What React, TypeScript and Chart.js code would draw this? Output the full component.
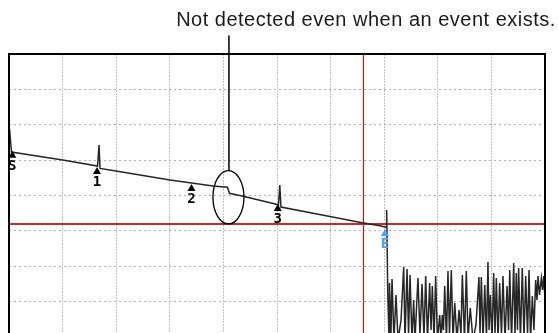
import React, { useEffect, useRef } from "react";
import { Chart, registerables } from "chart.js";

Chart.register(...registerables);

// Distance (km) and level (dB) of the measured OTDR trace
const traceKm = [
  0.05, 0.23, 5.01, 8.26, 8.4, 8.49, 9.98, 15.02, 19.03, 20.38, 20.57, 21.74, 25.14, 25.26, 25.37,
  29.94, 32.93, 34.61, 35.17, 35.23, 35.33,
  35.45, 35.49, 35.63, 35.73, 35.91, 36.1, 36.29, 36.57, 36.82, 36.94, 37.13, 37.27, 37.41, 37.59,
  37.75, 37.87, 38.15, 38.34, 38.53, 38.71, 38.87, 39.04, 39.24, 39.37, 39.49, 39.65, 39.8, 39.97,
  40.18, 40.3, 40.42, 40.53, 40.64, 40.81, 40.95, 41.09, 41.26, 41.42, 41.58, 41.79, 41.98, 42.16,
  42.29, 42.49, 42.66, 42.82, 43.03, 43.28, 43.56, 43.84, 43.94, 44.06, 44.22, 44.38, 44.54, 44.68,
  44.78, 44.9, 45.06, 45.21, 45.34, 45.46, 45.62, 45.77, 45.94, 46.08, 46.27, 46.46, 46.6, 46.71,
  46.88, 47.08, 47.2, 47.32, 47.43, 47.54, 47.71, 47.88, 48.04, 48.2, 48.37, 48.51, 48.65, 48.82,
  48.97, 49.13, 49.25, 49.35, 49.49, 49.66, 49.77, 49.88, 50.0,
];
const traceDb = [
  29.4, 26.15, 25.02, 24.17, 27.14, 23.82, 23.46, 22.19, 21.34, 21.16, 20.31, 19.93, 18.69, 21.48, 18.37,
  17.03, 16.16, 15.73, 15.51, 17.95, 6.36,
  -0.42, 7.63, 0.28, 8.2, -0.42, 5.94, -0.42, 2.4, 9.89, -0.42, 9.61, 0.28, 8.76, -0.42,
  5.23, -0.42, 8.34, 0.28, 7.49, -0.14, 8.62, -0.42, 7.63, 0.99, 7.21, -0.42, 8.62, -0.42,
  3.11, -0.42, 3.11, 0.99, 7.21, -0.42, 9.33, 0.28, 9.47, -0.42, 4.81, -0.42, 3.82, 0.28,
  8.76, -0.42, 9.33, -0.14, 4.1, -0.42, 1.7, 8.48, 0.28, 8.48, -0.42, 7.35, -0.14, 10.6,
  0.99, 5.94, -0.42, 9.05, 0.28, 8.34, -0.42, 7.63, 0.14, 8.62, -0.42, 7.21, 0.99, 9.47,
  -0.42, 10.46, 0.28, 9.05, 0.99, 9.75, -0.42, 9.75, -0.14, 8.62, 0.28, 9.47, -0.42, 5.8,
  0.99, 8.06, 5.23, 8.62, 5.94, 8.34, 6.64, 8.62, 5.23,
];

// Detected events
const eventNames = ["S", "1", "2", "3", "E"];
const eventKm = [0.31, 8.21, 17.02, 25.07, 35.07];
const eventDb = [26.33, 24.03, 21.63, 18.8, 15.27];

// Undetected step event (annotated)
const missedKm = 20.47;
const missedDb = 20.74;
const noteText = "Not detected even when an event exists.";

// Cursors
const cursorKm = 33.02;
const cursorDb = 15.97;

// Axes
const kmMin = 0;
const kmMax = 50;
const kmStep = 5;
const dbMin = 0;
const dbMax = 40;
const dbStep = 5;

const W = 559;
const H = 345;

export default function App() {
  const ref = useRef<HTMLCanvasElement | null>(null);

  useEffect(() => {
    const canvas = ref.current;
    if (!canvas) return;

    const overlay = {
      id: "otdrOverlay",
      beforeDatasetsDraw(chart: any) {
        const { ctx, chartArea: a, scales } = chart;
        const cx = scales.x.getPixelForValue(cursorKm);
        const cy = scales.y.getPixelForValue(cursorDb);
        ctx.save();
        ctx.strokeStyle = "#cc2a2a";
        ctx.lineWidth = 2;
        ctx.beginPath();
        ctx.moveTo(a.left, Math.round(cy));
        ctx.lineTo(a.right, Math.round(cy));
        ctx.stroke();
        ctx.lineWidth = 1.2;
        ctx.strokeStyle = "#c81818";
        ctx.beginPath();
        ctx.moveTo(Math.round(cx) + 0.5, a.top);
        ctx.lineTo(Math.round(cx) + 0.5, a.bottom);
        ctx.stroke();
        ctx.restore();
      },
      afterDatasetsDraw(chart: any) {
        const { ctx, scales } = chart;
        ctx.save();
        // event markers
        for (let i = 0; i < eventNames.length; i++) {
          const px = scales.x.getPixelForValue(eventKm[i]);
          const py = scales.y.getPixelForValue(eventDb[i]);
          const col = eventNames[i] === "E" ? "#4a9ff5" : "#000000";
          ctx.fillStyle = col;
          ctx.beginPath();
          ctx.moveTo(px, py);
          ctx.lineTo(px + 4, py + 7);
          ctx.lineTo(px - 4, py + 7);
          ctx.closePath();
          ctx.fill();
          ctx.font = "bold 14px 'DejaVu Sans Mono', monospace";
          ctx.textAlign = "center";
          ctx.textBaseline = "alphabetic";
          ctx.fillText(eventNames[i], px, py + 19);
        }
        // ellipse + callout
        const mx = scales.x.getPixelForValue(missedKm);
        const my = scales.y.getPixelForValue(missedDb) + 7;
        const rx = 15.5;
        const ry = 26.7;
        ctx.strokeStyle = "#000";
        ctx.lineWidth = 1.3;
        ctx.beginPath();
        ctx.ellipse(mx, my, rx, ry, 0, 0, Math.PI * 2);
        ctx.stroke();
        ctx.lineWidth = 1.5;
        ctx.beginPath();
        ctx.moveTo(mx + 0.5, my - ry);
        ctx.lineTo(mx + 0.5, 35.5);
        ctx.stroke();
        ctx.restore();
      },
      afterDraw(chart: any) {
        const { ctx, chartArea: a } = chart;
        ctx.save();
        ctx.strokeStyle = "#000";
        ctx.lineWidth = 2;
        ctx.strokeRect(a.left, a.top, a.right - a.left, a.bottom - a.top);
        ctx.fillStyle = "#1a1a1a";
        ctx.font = "20px 'Liberation Sans', Arial, sans-serif";
        (ctx as any).letterSpacing = "0.5px";
        ctx.textAlign = "center";
        ctx.textBaseline = "alphabetic";
        ctx.fillText(noteText, 366, 26);
        ctx.restore();
      },
    };

    const chart = new Chart(canvas, {
      type: "line",
      data: {
        datasets: [
          {
            label: "Trace",
            data: traceKm.map((x, i) => ({ x, y: traceDb[i] })),
            borderColor: "#262626",
            borderWidth: 1.5,
            pointRadius: 0,
            tension: 0,
            fill: false,
          },
        ],
      },
      options: {
        responsive: false,
        animation: false,
        events: [],
        layout: { padding: { left: 9, top: 54, right: 14, bottom: 8 } },
        plugins: { legend: { display: false }, tooltip: { enabled: false }, title: { display: false } },
        scales: {
          x: {
            type: "linear",
            min: kmMin,
            max: kmMax,
            ticks: { display: false, stepSize: kmStep },
            grid: { color: "#c2c2c2", drawTicks: false, lineWidth: 1 },
            border: { display: false, dash: [2, 1] },
          },
          y: {
            type: "linear",
            min: dbMin,
            max: dbMax,
            ticks: { display: false, stepSize: dbStep },
            grid: { color: "#b0b0b0", drawTicks: false, lineWidth: 1 },
            border: { display: false, dash: [2, 3] },
          },
        },
      },
      plugins: [overlay],
    });
    return () => chart.destroy();
  }, []);

  return (
    <div style={{ position: "fixed", left: 0, top: 0, width: W, height: 333, overflow: "hidden", background: "#fff" }}>
      <canvas ref={ref} width={W} height={H} style={{ display: "block", width: W, height: H }} />
    </div>
  );
}
